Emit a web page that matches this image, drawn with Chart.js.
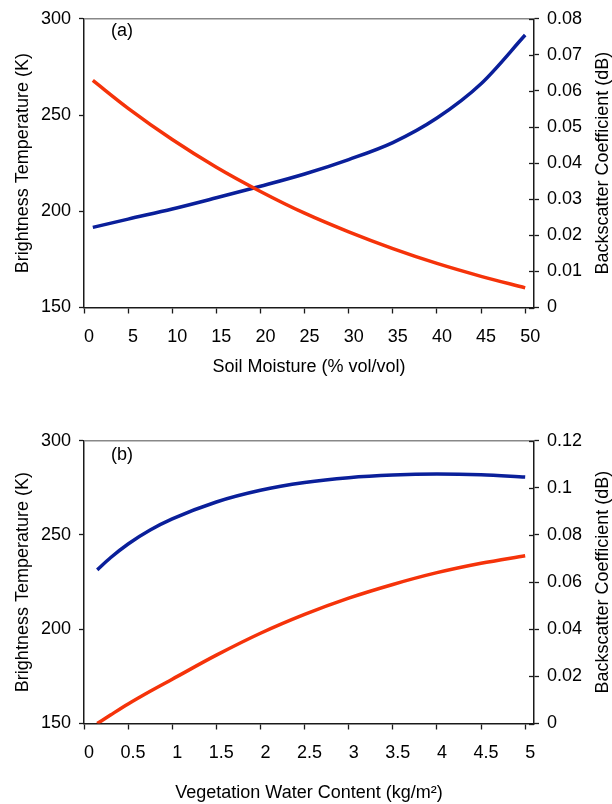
<!DOCTYPE html>
<html>
<head>
<meta charset="utf-8">
<script src="https://cdn.jsdelivr.net/npm/chart.js@4"></script>
<style>
  html, body { margin: 0; padding: 0; background: #fff; }
  #wrap { position: relative; width: 612px; height: 804px; }
  canvas { position: absolute; left: 0; }
  #chartA { top: 0; }
  #chartB { top: 400px; }
</style>
</head>
<body>
<div id="wrap">
  <canvas id="chartA" width="612" height="400"></canvas>
  <canvas id="chartB" width="612" height="404"></canvas>
</div>
<script>
// ---- panel (a): soil moisture ----
const soilMoisture = [1, 5, 10, 15, 20, 25, 30, 35, 40, 45, 50];
const tbSoil = [268, 253.5, 237.3, 222.9, 210.3, 199, 189.3, 180.6, 172.9, 166.2, 160.2];
const sigmaSoil = [0.0222, 0.0245, 0.0273, 0.0304, 0.0336, 0.0370, 0.0410, 0.0457, 0.0525, 0.0620, 0.0755];
const soilTicks = [0, 5, 10, 15, 20, 25, 30, 35, 40, 45, 50];

// ---- panel (b): vegetation water content ----
const vegWater = [0.15, 0.3, 0.5, 0.75, 1, 1.5, 2, 2.5, 3, 3.5, 4, 4.5, 5];
const tbVeg = [231.5, 237.9, 245.2, 252.6, 258.5, 267.5, 273.7, 277.8, 280.4, 281.8, 282.3, 281.9, 280.7];
const sigmaVeg = [0, 0.0036, 0.0083, 0.0137, 0.0188, 0.0290, 0.0383, 0.0463, 0.0532, 0.0590, 0.0640, 0.0680, 0.0712];
const vegTicks = [0, 0.5, 1, 1.5, 2, 2.5, 3, 3.5, 4, 4.5, 5];

const RED = '#f5330a';
const BLUE = '#0a1f9a';
const AXIS = '#1a1a1a';
const FONT = 'Liberation Sans, Arial, sans-serif';
const FS = 18;

Chart.defaults.font.family = FONT;
Chart.defaults.font.size = FS;
Chart.defaults.color = '#000';

const pts = (xs, ys) => xs.map((x, i) => ({ x, y: ys[i] }));

// draws what Chart.js can't do directly: gray top frame, crossing right ticks,
// bottom-to-top right title and the panel letter
const extras = {
  id: 'extras',
  afterDraw(chart, args, opts) {
    const { ctx, chartArea: a } = chart;
    ctx.save();
    ctx.strokeStyle = '#888';
    ctx.lineWidth = 1.5;
    ctx.beginPath();
    ctx.moveTo(a.left, a.top);
    ctx.lineTo(a.right, a.top);
    ctx.stroke();

    const y1 = chart.scales.y1;
    ctx.strokeStyle = AXIS;
    ctx.lineWidth = 1.3;
    y1.ticks.forEach(t => {
      const py = Math.round(y1.getPixelForValue(t.value)) + 0.5;
      ctx.beginPath();
      ctx.moveTo(a.right - 5, py);
      ctx.lineTo(a.right, py);
      ctx.stroke();
    });

    ctx.fillStyle = '#000';
    ctx.font = FS + 'px ' + FONT;
    ctx.textBaseline = 'middle';
    ctx.textAlign = 'left';
    ctx.fillText(opts.panel, opts.panelX, opts.panelY);

    ctx.translate(603, (a.top + a.bottom) / 2);
    ctx.rotate(-Math.PI / 2);
    ctx.textAlign = 'center';
    ctx.fillText('Backscatter Coefficient (dB)', 0, 0);
    ctx.restore();
  }
};

function makeChart(id, cfg) {
  const xTickVals = cfg.xTicks;
  return new Chart(document.getElementById(id), {
    type: 'line',
    data: {
      datasets: [
        {
          data: pts(cfg.x, cfg.tb), yAxisID: 'y',
          borderColor: cfg.tbColor, borderWidth: 3.5,
          pointRadius: 0, cubicInterpolationMode: 'monotone'
        },
        {
          data: pts(cfg.x, cfg.sigma), yAxisID: 'y1',
          borderColor: cfg.sigmaColor, borderWidth: 3.5,
          pointRadius: 0, cubicInterpolationMode: 'monotone'
        }
      ]
    },
    options: {
      responsive: false,
      animation: false,
      devicePixelRatio: 1,
      layout: { padding: { top: cfg.padTop, left: 0, right: 0, bottom: 0 } },
      plugins: {
        legend: { display: false },
        tooltip: { enabled: false },
        extras: { panel: cfg.panel, panelX: 111, panelY: cfg.panelY }
      },
      scales: {
        x: {
          type: 'linear',
          min: 0,
          max: cfg.xMax,
          afterBuildTicks: s => { s.ticks = xTickVals.map(v => ({ value: v })); },
          afterFit: s => { s.height = cfg.xHeight; },
          border: { color: AXIS, width: 1.5 },
          grid: { drawOnChartArea: false, tickLength: 6, tickColor: AXIS, tickWidth: 1.3 },
          ticks: { padding: 13, labelOffset: 5, maxRotation: 0, autoSkip: false,
                   callback: v => String(v) },
          title: { display: true, text: cfg.xTitle, padding: { top: 0, bottom: cfg.xTitlePad } }
        },
        y: {
          position: 'left',
          min: 150, max: 300,
          ticks: { stepSize: 50, padding: 8 },
          afterFit: s => { s.width = 84; },
          border: { color: AXIS, width: 1.5 },
          grid: { drawOnChartArea: false, tickLength: 5, tickColor: AXIS, tickWidth: 1.3 },
          title: { display: true, text: 'Brightness Temperature (K)', padding: { top: 12, bottom: 0 } }
        },
        y1: {
          position: 'right',
          min: 0, max: cfg.sigmaMax,
          ticks: { stepSize: cfg.sigmaStep, padding: 8, callback: v => String(+v.toFixed(3)) },
          afterFit: s => { s.width = 78; },
          border: { color: AXIS, width: 1.5 },
          grid: { drawOnChartArea: false, tickLength: 5, tickColor: AXIS, tickWidth: 1.3 }
        }
      }
    },
    plugins: [extras]
  });
}

makeChart('chartA', {
  x: soilMoisture, tb: tbSoil, sigma: sigmaSoil,
  tbColor: RED, sigmaColor: BLUE,
  xTicks: soilTicks, xMax: 51,
  sigmaMax: 0.08, sigmaStep: 0.01,
  padTop: 16, xHeight: 92.5, xTitlePad: 22,
  xTitle: 'Soil Moisture (% vol/vol)',
  panel: '(a)', panelY: 31
});

makeChart('chartB', {
  x: vegWater, tb: tbVeg, sigma: sigmaVeg,
  tbColor: BLUE, sigmaColor: RED,
  xTicks: vegTicks, xMax: 5.1,
  sigmaMax: 0.12, sigmaStep: 0.02,
  padTop: 40.7, xHeight: 80.5, xTitlePad: 0,
  xTitle: 'Vegetation Water Content (kg/m²)',
  panel: '(b)', panelY: 55.5
});
</script>
</body>
</html>
